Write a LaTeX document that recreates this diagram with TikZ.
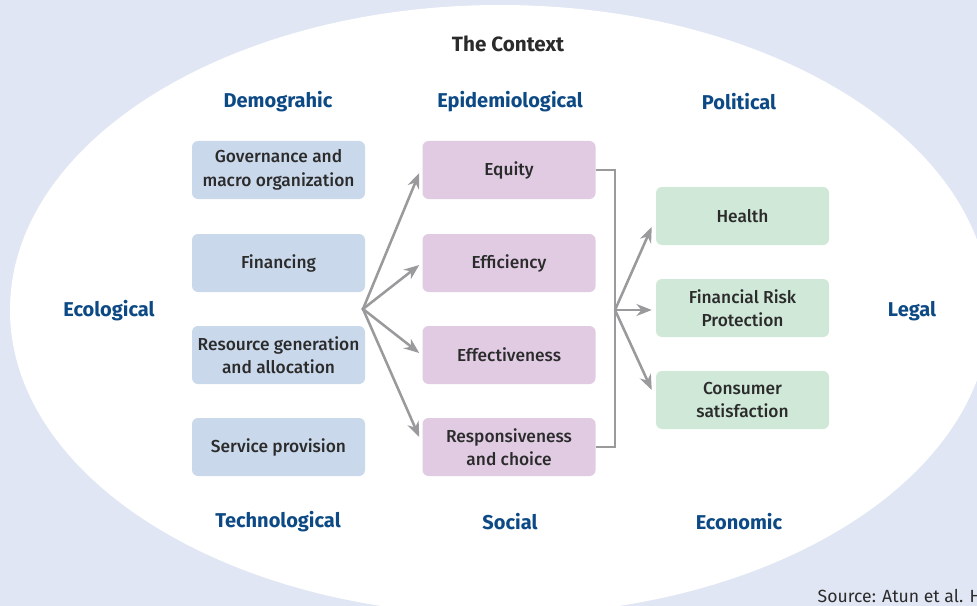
\documentclass[tikz,border=0pt]{standalone}
\usepackage{xcolor}
\usepackage{fontspec}
\setmainfont{Fira Sans}
\newfontfamily\medfont{Fira Sans}[UprightFont=* Medium]
\usepackage{tikz}
\usetikzlibrary{arrows.meta}

\definecolor{bgblue}{RGB}{224,230,243}
\definecolor{hdrblue}{RGB}{13,74,133}
\definecolor{boxblue}{RGB}{201,216,235}
\definecolor{boxpurple}{RGB}{224,203,227}
\definecolor{boxgreen}{RGB}{207,232,216}
\definecolor{arrgray}{RGB}{154,154,156}
\definecolor{txtgray}{RGB}{43,43,43}

\tikzset{
  sysbox/.style={rounded corners=4.5pt, minimum width=129.75pt, minimum height=43.5pt,
    align=center, inner sep=1pt, text=txtgray, font=\medfont\fontsize{13}{17.5}\selectfont},
  blockbox/.style={sysbox, fill=boxblue},
  goalbox/.style={sysbox, fill=boxpurple},
  outbox/.style={sysbox, fill=boxgreen},
  ctxlabel/.style={text=hdrblue, font=\bfseries\fontsize{15}{17}\selectfont},
  fanarrow/.style={draw=arrgray, line width=1.9pt, -{Stealth[length=11.5pt,width=9pt]}},
  bracket/.style={draw=arrgray, line width=1.9pt}
}

\begin{document}
\begin{tikzpicture}[x=0.75pt,y=0.75pt,yscale=-1,xscale=1]
        \useasboundingbox (0,0) rectangle (977,606);
        \clip (0,0) rectangle (977,606);
        \fill[bgblue] (0,0) rectangle (977,606);
        \fill[white] (500,310) ellipse [x radius=490, y radius=305];

        \node[font=\bfseries\fontsize{15.5}{17}\selectfont, text=txtgray] (ctx) at (508,44) {The Context};
        \node[ctxlabel] (demo) at (278,102) {Demograhic};
        \node[ctxlabel] (epi) at (510,102) {Epidemiological};
        \node[ctxlabel] (pol) at (739,102) {Political};
        \node[ctxlabel] (tech) at (278,522) {Technological};
        \node[ctxlabel] (soc) at (510,522) {Social};
        \node[ctxlabel] (econ) at (739,522) {Economic};
        \node[ctxlabel] (eco) at (109,311) {Ecological};
        \node[ctxlabel] (legal) at (912,311) {Legal};

        \node[blockbox] (gov) at (278.5,170) {Governance and\\macro organization};
        \node[blockbox] (fin) at (278.5,263) {Financing};
        \node[blockbox] (res) at (278.5,355) {Resource generation\\and allocation};
        \node[blockbox] (serv) at (278.5,447) {Service provision};

        \node[goalbox] (equity) at (509,170) {Equity};
        \node[goalbox] (effic) at (509,263) {Efficiency};
        \node[goalbox] (effect) at (509,355) {Effectiveness};
        \node[goalbox] (resp) at (509,447) {Responsiveness\\and choice};

        \node[outbox] (health) at (742.5,216) {Health};
        \node[outbox] (frp) at (742.5,308) {Financial Risk\\Protection};
        \node[outbox] (cons) at (742.5,400) {Consumer\\satisfaction};

        \coordinate (lfan) at (363,309);
        \coordinate (rfan) at (615,310);
        \fill (lfan) circle [radius=1.6];

        \draw[fanarrow] (lfan) -- ([shift={(-3,3)}]equity.west);
        \draw[fanarrow] (lfan) -- ([shift={(-3,2)}]effic.west);
        \draw[fanarrow] (lfan) -- ([shift={(-3,-2)}]effect.west);
        \draw[fanarrow] (lfan) -- ([shift={(-3,-10)}]resp.west);

        \draw[bracket] (equity.east) -| (rfan) |- (resp.east);
        \draw[fanarrow] (rfan) -- ([shift={(-4,11)}]health.west);
        \draw[fanarrow] (rfan) -- ([shift={(-4,2)}]frp.west);
        \draw[fanarrow] (rfan) -- ([shift={(-4,-10)}]cons.west);

        \node[anchor=base west, text=txtgray, font=\fontsize{13.2}{15}\selectfont] (src) at (813,602) {Source: Atun et al. H};
\end{tikzpicture}
\end{document}
